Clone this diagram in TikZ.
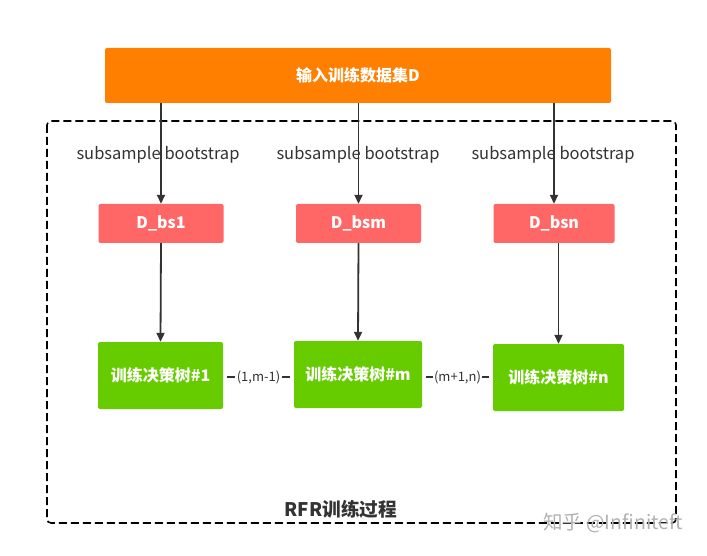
\documentclass[tikz,border=0pt]{standalone}
\usepackage{fontspec}
\setmainfont{Noto Sans CJK SC}
\usetikzlibrary{arrows.meta}
\definecolor{topor}{HTML}{FF8000}
\definecolor{redbox}{HTML}{FF6666}
\definecolor{grnbox}{HTML}{66CC00}
\definecolor{lnc}{HTML}{333333}
\tikzset{
  boxbase/.style={rectangle, rounded corners=2pt, text=white, font=\bfseries\fontsize{16}{19}\selectfont, inner sep=0pt},
  topbox/.style={boxbase, fill=topor, minimum width=506pt, minimum height=55pt},
  databox/.style={boxbase, fill=redbox, minimum height=39pt},
  treebox/.style={boxbase, fill=grnbox, minimum height=67pt},
  conn/.style={draw=lnc, line width=1.8pt, -{Triangle[length=9pt,width=8pt]}},
  link/.style={draw=lnc, line width=1.8pt},
  sslabel/.style={font=\fontsize{16.5}{19}\selectfont, text=lnc, inner sep=0pt},
  lnklabel/.style={font=\fontsize{13}{15}\selectfont, text=lnc, fill=white, inner xsep=1.5pt, inner ysep=1pt},
  frame/.style={draw=black, line width=1.6pt, dash pattern=on 8pt off 4pt, rounded corners=4pt}
}
\begin{document}
\begin{tikzpicture}[x=1pt,y=-1pt]
\useasboundingbox[fill=white] (0,0) rectangle (707,556);
\draw[frame] (47,121) rectangle (676,523);
\node[topbox] (top) at (358,75.5) {输入训练数据集D};
\node[databox, minimum width=125pt] (d1) at (161,223.5) {D\_bs1};
\node[databox, minimum width=125pt] (dm) at (358.5,223.5) {D\_bsm};
\node[databox, minimum width=121pt] (dn) at (554,223.5) {D\_bsn};
\node[treebox, minimum width=125pt] (g1) at (160.5,375.5) {训练决策树\#1};
\node[treebox, minimum width=128pt] (gm) at (358,374.5) {训练决策树\#m};
\node[treebox, minimum width=131pt] (gn) at (558.5,377.5) {训练决策树\#n};
\draw[conn] (d1.north |- top.south) -- (d1.north);
\draw[conn] (dm.north |- top.south) -- (dm.north);
\draw[conn] (dn.north |- top.south) -- (dn.north);
\node[sslabel] (s1) at (158,155) {subsample bootstrap};
\node[sslabel] (sm) at (358,155) {subsample bootstrap};
\node[sslabel] (sn) at (553,155) {subsample bootstrap};
\draw[conn] (d1.south) -- (g1.north);
\draw[conn] (dm.south) -- (gm.north);
\draw[conn] (dn.south -| gn.north) -- (gn.north);
\coordinate (a1) at (g1.east |- 0,377);
\coordinate (a2) at (gm.west |- 0,377);
\coordinate (b1) at (gm.east |- 0,377);
\coordinate (b2) at (gn.west |- 0,377);
\draw[link, shorten <=4pt, shorten >=4pt] (a1) -- node[lnklabel] (l1) {(1,m-1)} (a2);
\draw[link, shorten <=4pt, shorten >=4pt] (b1) -- node[lnklabel] (l2) {(m+1,n)} (b2);
\node[font=\bfseries\fontsize{18.7}{22}\selectfont, text=lnc] (title) at (341,509) {RFR训练过程};
\node[font=\fontsize{19.5}{22}\selectfont, text=black!30] (wm) at (613,523) {知乎 @Infiniteft};
\end{tikzpicture}
\end{document}
